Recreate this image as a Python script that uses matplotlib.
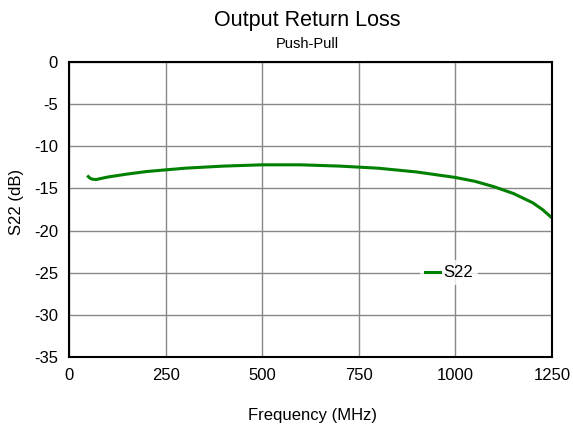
import matplotlib
matplotlib.use("Agg")
import matplotlib.pyplot as plt

plt.rcParams['font.family'] = ['Liberation Sans', 'DejaVu Sans']
plt.rcParams['axes.unicode_minus'] = False

# S22 vs frequency, push-pull configuration
freq_mhz = [50, 55, 60, 70, 80, 100, 150, 200, 250, 300, 400, 500, 600, 700,
            800, 900, 1000, 1050, 1100, 1150, 1200, 1225, 1250]
s22_db = [-13.6, -13.8, -13.9, -13.95, -13.85, -13.65, -13.3, -13.0, -12.8,
          -12.6, -12.35, -12.2, -12.2, -12.35, -12.6, -13.05, -13.7, -14.15,
          -14.8, -15.6, -16.7, -17.5, -18.5]

xticks = [0, 250, 500, 750, 1000, 1250]
yticks = [0, -5, -10, -15, -20, -25, -30, -35]

fig = plt.figure(figsize=(5.73, 4.32), dpi=100)
ax = fig.add_axes([0.1204, 0.1736, 0.843, 0.6829])

ax.plot(freq_mhz, s22_db, color='#008000', lw=2.2, label='S22')

ax.set_xlim(0, 1250)
ax.set_ylim(-35, 0)
ax.set_xticks(xticks)
ax.set_yticks(yticks)
ax.tick_params(length=0, labelsize=12, pad=8)
ax.grid(True, color='#888888', lw=1.0)
for sp in ax.spines.values():
    sp.set_linewidth(1.5)
    sp.set_color('black')

ax.set_xlabel('Frequency (MHz)', fontsize=12, va='center')
ax.xaxis.set_label_coords(0.505, -0.197)
ax.set_ylabel('S22 (dB)', fontsize=12, va='center')
ax.yaxis.set_label_coords(-0.108, 0.525)

fig.text(0.536, 0.952, 'Output Return Loss', ha='center', va='center', fontsize=15.5)
fig.text(0.536, 0.897, 'Push-Pull', ha='center', va='center', fontsize=10.5)

leg = ax.legend(loc='center left', bbox_to_anchor=(0.71, 0.285), frameon=True,
                fontsize=12, handlelength=0.9, handletextpad=0.2,
                borderpad=0.3, fancybox=False)
leg.get_frame().set_edgecolor('none')
leg.get_frame().set_facecolor('white')

fig.savefig('out.png', dpi=100)
